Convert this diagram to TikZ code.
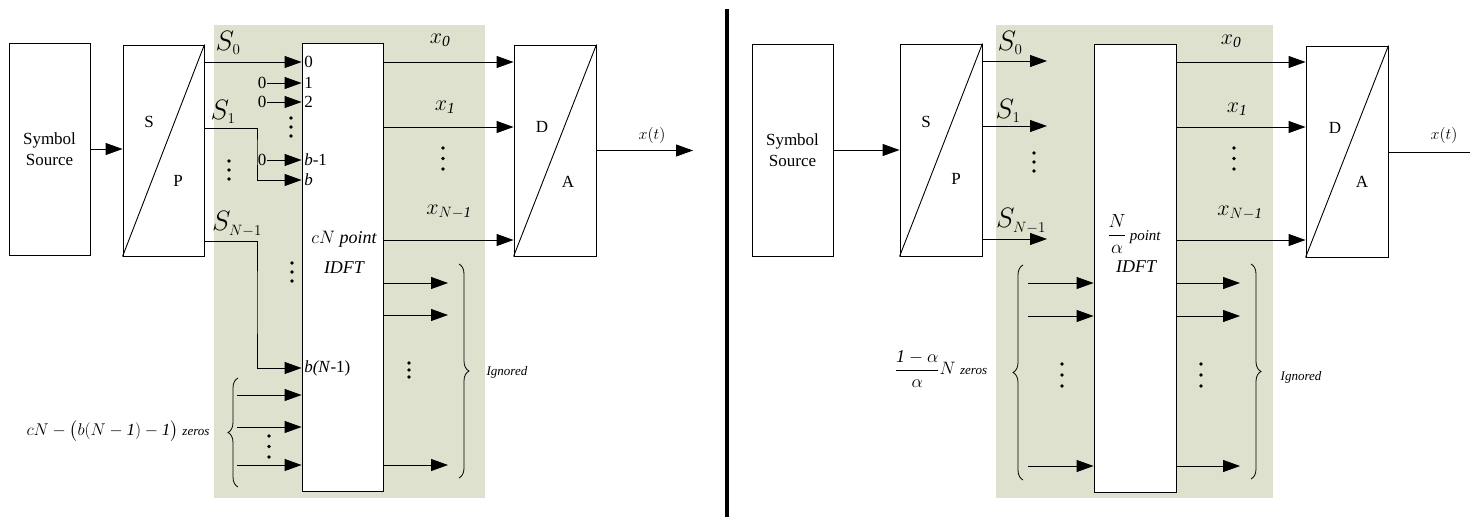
\documentclass[tikz,border=0pt]{standalone}
\usepackage{fix-cm}
\usepackage{amsmath}
\usepackage{fontspec}
\setmainfont{Liberation Serif}
\usetikzlibrary{arrows.meta,decorations.pathreplacing}
\definecolor{panel}{RGB}{221,225,205}
\tikzset{
  blk/.style={draw, line width=0.9pt, fill=white, inner sep=0pt},
  arr/.style={line width=0.9pt, -{Triangle[length=17pt,width=12pt]}},
  ln/.style={line width=0.9pt},
  brc/.style={decorate, decoration={brace, amplitude=10pt}, line width=0.8pt},
  bigS/.style={inner sep=0pt, font=\fontsize{28}{30}\selectfont},
  xlab/.style={inner sep=0pt, font=\fontsize{22}{24}\selectfont},
  pin/.style={anchor=west, inner sep=2.5pt, font=\fontsize{17}{19}\selectfont},
  zsrc/.style={inner sep=1pt, font=\fontsize{17}{19}\selectfont},
  sp/.style={inner sep=0pt, font=\fontsize{17}{19}\selectfont},
  small/.style={inner sep=0pt, font=\fontsize{16}{18}\selectfont\itshape}
}
\newcommand\mydots[3]{\foreach \k in {0,1,2}{\fill (#1,{#2+\k*(#3-#2)/2}) circle (1.8pt);}}
\newcommand\subsz[1]{\mbox{\fontsize{15}{16}\selectfont$#1$}}
\begin{document}
\begin{tikzpicture}[x=1pt,y=-1pt]
\useasboundingbox (0,0) rectangle (1470,517);
% shaded panels
\fill[panel] (214,25) rectangle (485,498);
\fill[panel] (996,25) rectangle (1273,498);
% divider
\draw[line width=4.5pt] (727,9) -- (727,517);

% ================= LEFT =================
\node[blk, minimum width=81pt, minimum height=212pt, align=center,
      font=\fontsize{17}{21}\selectfont] (ss1) at (49.5,149) {Symbol\\Source};
\node[blk, minimum width=81pt, minimum height=211pt] (sp1) at (163.5,150.5) {};
\draw[ln] (sp1.south west) -- (sp1.north east);
\node[sp] (sp1s) at (149,122) {S};
\node[sp] (sp1p) at (178,181) {P};
\node[blk, minimum width=81pt, minimum height=448pt] (idft1) at (342.5,267) {};
\node[inner sep=0pt, font=\fontsize{18}{20}\selectfont] (idft1a) at (344,239) {$cN\ \mathit{point}$};
\node[inner sep=0pt, font=\fontsize{18}{20}\selectfont\itshape] (idft1b) at (344,268) {IDFT};
\node[blk, minimum width=82pt, minimum height=211pt] (da1) at (555,150.5) {};
\draw[ln] (da1.south west) -- (da1.north east);
\node[sp] (da1d) at (542,127) {D};
\node[sp] (da1a) at (568,182) {A};

\draw[arr] (ss1.east) -- (ss1.east -| sp1.west);

\coordinate (L62) at (0,62);
\coordinate (L83) at (0,83);
\coordinate (L102) at (0,102);
\coordinate (L128) at (0,128);
\coordinate (L160) at (0,160);
\coordinate (L180) at (0,180);
\coordinate (L241) at (0,241);
\coordinate (L368) at (0,368);
\coordinate (k1) at (257,150);
\coordinate (k2) at (257,300);

\draw[arr] (sp1.east |- L62) -- (idft1.west |- L62);
\draw[arr] (sp1.east |- L128) -| (k1) |- (idft1.west |- L180);
\draw[arr] (sp1.east |- L241) -| (k2) |- (idft1.west |- L368);

\node[zsrc] (z1) at (262,83) {0};
\node[zsrc] (z2) at (262,102) {0};
\node[zsrc] (z3) at (262,160) {0};
\draw[arr] (z1.east) -- (idft1.west |- z1);
\draw[arr] (z2.east) -- (idft1.west |- z2);
\draw[arr] (z3.east) -- (idft1.west |- z3);

\node[pin] (p0) at (idft1.west |- L62) {0};
\node[pin] (p1) at (idft1.west |- L83) {1};
\node[pin] (p2) at (idft1.west |- L102) {2};
\node[pin] (pb1) at (idft1.west |- L160) {\textit{b}-1};
\node[pin] (pb) at (idft1.west |- L180) {\textit{b}};
\node[pin] (pbn) at (idft1.west |- L368) {\textit{b(N}-1)};

\mydots{291}{118}{136}
\mydots{229}{161}{179}
\mydots{292}{263}{281}

\node[bigS] (s0) at (228,43) {$S_{\subsz{0}}$};
\node[bigS] (s1) at (223,112) {$S_{\subsz{1}}$};
\node[bigS] (sn) at (237,224) {$S_{\subsz{N{-}1}}$};

% zero padding inputs
\coordinate (zl1) at (237,395);
\coordinate (zl2) at (237,427);
\coordinate (zl3) at (237,465);
\draw[arr] (zl1) -- (idft1.west |- zl1);
\draw[arr] (zl2) -- (idft1.west |- zl2);
\draw[arr] (zl3) -- (idft1.west |- zl3);
\mydots{269}{436}{457}
\coordinate (bl1) at (238,487);
\coordinate (bl2) at (238,378);
\draw[brc] (bl1) -- (bl2);
\node[inner sep=0pt, font=\fontsize{17}{19}\selectfont] (zlab1) at (118,431)
  {$cN-\bigl(b(N-\mathit{1})-\mathit{1}\bigr)$ {\fontsize{13}{15}\selectfont\itshape zeros}};

% outputs
\coordinate (R62) at (0,62);
\coordinate (R127) at (0,127);
\coordinate (R240) at (0,240);
\draw[arr] (idft1.east |- R62) -- (da1.west |- R62);
\draw[arr] (idft1.east |- R127) -- (da1.west |- R127);
\draw[arr] (idft1.east |- R240) -- (da1.west |- R240);
\node[xlab] (x0) at (440,40) {$x_{\mathit{0}}$};
\node[xlab] (x1) at (445,107) {$x_{\mathit{1}}$};
\node[xlab] (xn) at (449,212) {$x_{\subsz{N{-}\mathit{1}}}$};
\mydots{443}{148}{169}

\coordinate (ig1) at (448,283);
\coordinate (ig2) at (448,315);
\coordinate (ig3) at (448,465);
\draw[arr] (idft1.east |- ig1) -- (ig1);
\draw[arr] (idft1.east |- ig2) -- (ig2);
\draw[arr] (idft1.east |- ig3) -- (ig3);
\mydots{409}{363}{377}
\coordinate (br1) at (459,264);
\coordinate (br2) at (459,478);
\draw[brc] (br1) -- (br2);
\node[inner sep=0pt, font=\fontsize{13}{15}\selectfont\itshape] (ign1) at (507,372) {Ignored};

\coordinate (xt1) at (693,150.5);
\draw[arr] (da1.east) -- (xt1);
\node[small] (xtl1) at (652,135) {$x(t)$};

% ================= RIGHT =================
\node[blk, minimum width=81pt, minimum height=212pt, align=center,
      font=\fontsize{17}{21}\selectfont] (ss2) at (792.5,150) {Symbol\\Source};
\node[blk, minimum width=82pt, minimum height=212pt] (sp2) at (941,150) {};
\draw[ln] (sp2.south west) -- (sp2.north east);
\node[sp] (sp2s) at (926,122) {S};
\node[sp] (sp2p) at (956,179) {P};
\node[blk, minimum width=82pt, minimum height=448pt] (idft2) at (1135,268) {};
\node[inner sep=0pt, font=\fontsize{19}{21}\selectfont] (idft2a) at (1134,234)
  {$\dfrac{N}{\alpha}$\,{\fontsize{15}{17}\selectfont\itshape point}};
\node[inner sep=0pt, font=\fontsize{18}{20}\selectfont\itshape] (idft2b) at (1136,267) {IDFT};
\node[blk, minimum width=82pt, minimum height=211pt] (da2) at (1347,151.5) {};
\draw[ln] (da2.south west) -- (da2.north east);
\node[sp] (da2d) at (1335,128) {D};
\node[sp] (da2a) at (1362,182) {A};

\draw[arr] (ss2.east) -- (ss2.east -| sp2.west);

\coordinate (q0) at (1047,61);
\coordinate (q1) at (1047,126);
\coordinate (q2) at (1047,239);
\draw[arr] (sp2.east |- q0) -- (q0);
\draw[arr] (sp2.east |- q1) -- (q1);
\draw[arr] (sp2.east |- q2) -- (q2);
\node[bigS] (t0) at (1010,43) {$S_{\subsz{0}}$};
\node[bigS] (t1) at (1008,111) {$S_{\subsz{1}}$};
\node[bigS] (tn) at (1021,221) {$S_{\subsz{N{-}1}}$};
\mydots{1034}{153}{171}

\coordinate (zr1) at (1028,283);
\coordinate (zr2) at (1028,316);
\coordinate (zr3) at (1028,466);
\draw[arr] (zr1) -- (idft2.west |- zr1);
\draw[arr] (zr2) -- (idft2.west |- zr2);
\draw[arr] (zr3) -- (idft2.west |- zr3);
\mydots{1062}{364}{386}
\coordinate (bz1) at (1023,480);
\coordinate (bz2) at (1023,265);
\draw[brc] (bz1) -- (bz2);
\node[inner sep=0pt, font=\fontsize{18}{20}\selectfont] (zlab2) at (941,369)
  {$\dfrac{\mathit{1}-\alpha}{\alpha}N$ {\fontsize{13}{15}\selectfont\itshape zeros}};

\coordinate (S62) at (0,62);
\coordinate (S127) at (0,127);
\coordinate (S240) at (0,240);
\draw[arr] (idft2.east |- S62) -- (da2.west |- S62);
\draw[arr] (idft2.east |- S127) -- (da2.west |- S127);
\draw[arr] (idft2.east |- S240) -- (da2.west |- S240);
\node[xlab] (u0) at (1231,41) {$x_{\mathit{0}}$};
\node[xlab] (u1) at (1237,109) {$x_{\mathit{1}}$};
\node[xlab] (un) at (1240,213) {$x_{\subsz{N{-}\mathit{1}}}$};
\mydots{1234}{148}{169}

\coordinate (jg1) at (1240,283);
\coordinate (jg2) at (1240,316);
\coordinate (jg3) at (1240,466);
\draw[arr] (idft2.east |- jg1) -- (jg1);
\draw[arr] (idft2.east |- jg2) -- (jg2);
\draw[arr] (idft2.east |- jg3) -- (jg3);
\mydots{1201}{364}{386}
\coordinate (bj1) at (1251,264);
\coordinate (bj2) at (1251,479);
\draw[brc] (bj1) -- (bj2);
\node[inner sep=0pt, font=\fontsize{13}{15}\selectfont\itshape] (ign2) at (1301,377) {Ignored};

\coordinate (xt2) at (1470,152);
\draw[ln] (da2.east |- xt2) -- (xt2);
\node[small] (xtl2) at (1444,135) {$x(t)$};
\end{tikzpicture}
\end{document}
